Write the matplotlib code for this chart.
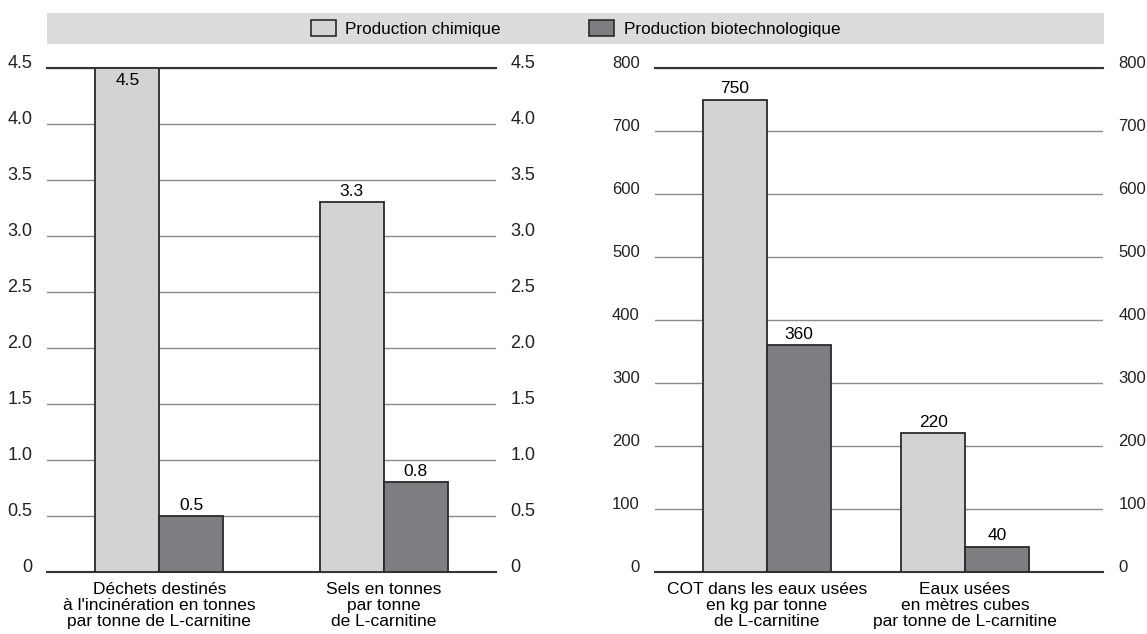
import matplotlib.pyplot as plt
from matplotlib.patches import Rectangle, Patch

# données
series = ["Production chimique", "Production biotechnologique"]

cats_left = ["Déchets destinés\nà l'incinération en tonnes\npar tonne de L-carnitine",
             "Sels en tonnes\npar tonne\nde L-carnitine"]
chem_left = [4.5, 3.3]
bio_left = [0.5, 0.8]
ticks_left = [0, 0.5, 1.0, 1.5, 2.0, 2.5, 3.0, 3.5, 4.0, 4.5]
ticklabels_left = ["0", "0.5", "1.0", "1.5", "2.0", "2.5", "3.0", "3.5", "4.0", "4.5"]

cats_right = ["COT dans les eaux usées\nen kg par tonne\nde L-carnitine",
              "Eaux usées\nen mètres cubes\npar tonne de L-carnitine"]
chem_right = [750, 220]
bio_right = [360, 40]
ticks_right = [0, 100, 200, 300, 400, 500, 600, 700, 800]
ticklabels_right = [str(t) for t in ticks_right]

col_chem = "#d3d3d5"
col_bio = "#7e7e82"
col_edge = "#2a2a2a"
band = "#dcdcdd"

plt.rcParams["font.family"] = ["Liberation Sans", "DejaVu Sans"]

fig = plt.figure(figsize=(11.47, 6.34), dpi=100)

W, H = 1147.0, 634.0
ax_l = fig.add_axes([47 / W, (H - 572) / H, 449 / W, 504 / H])
ax_r = fig.add_axes([655 / W, (H - 572) / H, 448 / W, 504 / H])


def panel(ax, pos, chem, bio, cats, ticks, labels, ymax, tsize, tpad):
    w = 0.285
    b1 = ax.bar([p - w / 2 for p in pos], chem, w, color=col_chem,
                edgecolor=col_edge, linewidth=1.3, zorder=3)
    b2 = ax.bar([p + w / 2 for p in pos], bio, w, color=col_bio,
                edgecolor=col_edge, linewidth=1.3, zorder=3)
    for bars, vals in ((b1, chem), (b2, bio)):
        for r, v in zip(bars, vals):
            txt = f"{v:g}"
            x = r.get_x() + r.get_width() / 2
            if v >= ymax:
                ax.annotate(txt, (x, v), xytext=(0, -3.5), textcoords="offset points",
                            ha="center", va="top", fontsize=12.5, zorder=4)
            else:
                ax.annotate(txt, (x, v), xytext=(0, 2.5), textcoords="offset points",
                            ha="center", va="bottom", fontsize=12.5, zorder=4)

    ax.set_xlim(-0.5, 1.5)
    ax.set_ylim(0, ymax)
    ax.set_yticks(ticks)
    ax.set_yticklabels(labels)
    ax.yaxis.grid(True, color="#8a8a8a", linewidth=1.0)
    ax.set_axisbelow(True)
    ax.tick_params(axis="y", length=0, labelleft=True, labelright=True,
                   labelsize=tsize, pad=tpad, colors="#222222")
    for t in ax.yaxis.get_major_ticks():
        t.label1.set_va("baseline")
        t.label2.set_va("baseline")

    ax.set_xticks(pos)
    ax.set_xticklabels(cats, fontsize=12.5, linespacing=1.05)
    ax.tick_params(axis="x", length=0, pad=7.5)

    for s in ["left", "right"]:
        ax.spines[s].set_visible(False)
    for s in ["top", "bottom"]:
        ax.spines[s].set_color("#333333")
        ax.spines[s].set_linewidth(1.5)


panel(ax_l, [0, 1], chem_left, bio_left, cats_left, ticks_left, ticklabels_left,
      4.5, 13, 10.5)
panel(ax_r, [0, 0.884], chem_right, bio_right, cats_right, ticks_right, ticklabels_right,
      800, 12, 11)

# bandeau de la légende
fig.patches.append(Rectangle((47 / W, (H - 44) / H), (1104 - 47) / W, 31 / H,
                             transform=fig.transFigure, facecolor=band,
                             edgecolor="none", zorder=0))
handles = [Patch(facecolor=col_chem, edgecolor=col_edge, linewidth=1.2),
           Patch(facecolor=col_bio, edgecolor=col_edge, linewidth=1.2)]
fig.legend(handles, series, loc="center", bbox_to_anchor=(575.5 / W, (H - 28.5) / H),
           ncol=2, frameon=False, fontsize=12.3, handlelength=1.45, handleheight=1.0,
           handletextpad=0.55, columnspacing=5.2, borderpad=0)

fig.savefig("out.png", dpi=100)
